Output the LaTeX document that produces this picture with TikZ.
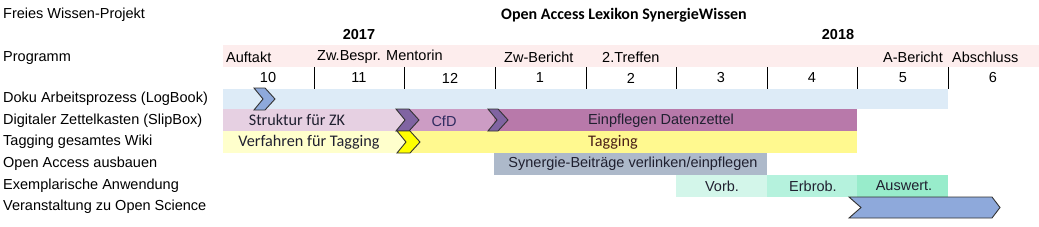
\documentclass[tikz,border=0pt]{standalone}
\usepackage{fontspec}
\setmainfont{Liberation Sans}
\newfontfamily\calfont{Carlito}
\definecolor{progpink}{HTML}{FDEDED}
\definecolor{dokublue}{HTML}{DDEBF7}
\definecolor{zkone}{HTML}{E6D0E2}
\definecolor{zktwo}{HTML}{CC9CC4}
\definecolor{zkthree}{HTML}{B879AA}
\definecolor{tagone}{HTML}{FFFFCC}
\definecolor{tagtwo}{HTML}{FFF98F}
\definecolor{oagray}{HTML}{ADB9CA}
\definecolor{exone}{HTML}{D3F6EA}
\definecolor{extwo}{HTML}{B5F2DD}
\definecolor{exthree}{HTML}{98ECCB}
\definecolor{chevblue}{HTML}{8EA9DB}
\definecolor{chevpurple}{HTML}{8064A2}
\definecolor{chevyellow}{HTML}{FFFF00}
\definecolor{bartext}{HTML}{202030}
\definecolor{cfdtext}{HTML}{2E2A5E}
\definecolor{tagtext}{HTML}{4A2018}
\newcommand\mychev[7]{% x1 x2 ytop ybot notch tip color
  \filldraw[fill=#7,draw=black!80,line width=0.9pt,line join=miter]
    (#1,#3) -- ({#2-#6},#3) -- (#2,{(#3+#4)/2}) -- ({#2-#6},#4) -- (#1,#4)
    -- ({#1+#5},{(#3+#4)/2}) -- cycle;}
\begin{document}
\begin{tikzpicture}[x=1pt,y=-1pt,
  lbl/.style={anchor=west,inner sep=0pt,font=\fontsize{14.5}{16}\selectfont},
  ctr/.style={anchor=center,inner sep=0pt,font=\fontsize{14.5}{16}\selectfont},
  cal/.style={anchor=center,inner sep=0pt,font=\calfont\fontsize{16.2}{18}\selectfont,text=bartext},
  yr/.style={anchor=center,inner sep=0pt,font=\bfseries\fontsize{14.5}{16}\selectfont},
  tick/.style={line width=1pt,black}]
\useasboundingbox (0,0) rectangle (1039,226);
% bands
\fill[progpink] (223,45) rectangle (1039,67);
\fill[dokublue] (223,89) rectangle (948,109);
\fill[zkone] (223,109) rectangle (404,131);
\fill[zktwo] (404,109) rectangle (494,131);
\fill[zkthree] (494,109) rectangle (857,131);
\fill[tagone] (223,131) rectangle (404,153);
\fill[tagtwo] (404,131) rectangle (857,153);
\fill[oagray] (494,153) rectangle (767,175);
\fill[exone] (676,175) rectangle (767,197);
\fill[extwo] (767,175) rectangle (857,197);
\fill[exthree] (857,175) rectangle (948,197);
% ticks
\foreach \x in {314,404,495,586,676,767,857,948}
  \draw[tick] (\x,67) -- (\x,89);
% chevrons
\mychev{254}{275}{88}{110}{9}{10}{chevblue}
\mychev{396}{419}{109}{131}{9}{10}{chevpurple}
\mychev{488}{508}{109}{131}{9}{10}{chevpurple}
\mychev{397}{420}{131}{153}{9}{10}{chevyellow}
\mychev{849}{1000}{197}{218}{12}{8}{chevblue}
% header texts
\node[lbl] (proj) at (3,15) {Freies Wissen-Projekt};
\node[anchor=center,inner sep=0pt,font=\calfont\bfseries\fontsize{16}{18}\selectfont] (title) at (624,15) {Open Access Lexikon SynergieWissen};
\node[yr] (y17) at (359,35) {2017};
\node[yr] (y18) at (838,35) {2018};
\node[lbl] (prog) at (3,58) {Programm};
\node[lbl] (p1) at (226,57) {Auftakt};
\node[lbl] (p2) at (317,57) {Zw.Bespr. Mentorin};
\node[lbl] (p3) at (504,57) {Zw-Bericht};
\node[lbl] (p4) at (602,57) {2.Treffen};
\node[lbl] (p5) at (883,57) {A-Bericht};
\node[lbl] (p6) at (952,57) {Abschluss};
% months
\foreach \m/\x in {10/268,11/359,12/450,1/540,2/631,3/721,4/812,5/903,6/993}
  \node[ctr] (m\m) at (\x,78) {\m};
% row labels
\node[lbl] (r1) at (3,99) {Doku Arbeitsprozess (LogBook)};
\node[lbl] (r2) at (3,121) {Digitaler Zettelkasten (SlipBox)};
\node[lbl] (r3) at (3,142) {Tagging gesamtes Wiki};
\node[lbl] (r4) at (3,164) {Open Access ausbauen};
\node[lbl] (r5) at (3,186) {Exemplarische Anwendung};
\node[lbl] (r6) at (3,207) {Veranstaltung zu Open Science};
% bar texts
\node[cal] (t1) at (297,120) {Struktur für ZK};
\node[ctr,text=cfdtext] (t2) at (444,121) {CfD};
\node[ctr,text=bartext] (t3) at (661,121) {Einpflegen Datenzettel};
\node[cal] (t4) at (309,142) {Verfahren für Tagging};
\node[cal,text=tagtext] (t5) at (613,142) {Tagging};
\node[ctr,text=bartext] (t6) at (633,164) {Synergie-Beiträge verlinken/einpflegen};
\node[ctr,text=bartext] (t7) at (722,186) {Vorb.};
\node[ctr,text=bartext] (t8) at (813,186) {Erbrob.};
\node[ctr,text=bartext] (t9) at (904,186) {Auswert.};
\end{tikzpicture}
\end{document}
